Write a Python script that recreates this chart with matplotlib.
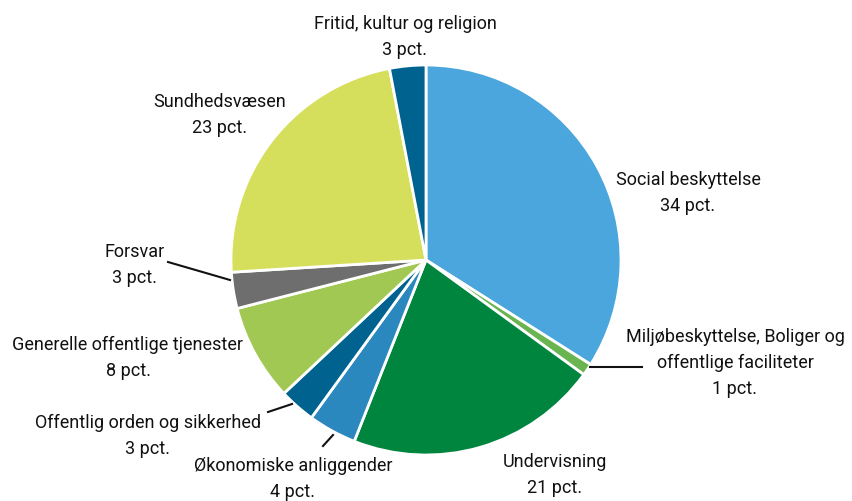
import matplotlib
matplotlib.use("Agg")
import matplotlib.pyplot as plt

categories = ["Social beskyttelse", "Miljøbeskyttelse, Boliger og\noffentlige faciliteter",
              "Undervisning", "Økonomiske anliggender", "Offentlig orden og sikkerhed",
              "Generelle offentlige tjenester", "Forsvar", "Sundhedsvæsen",
              "Fritid, kultur og religion"]
values = [34, 1, 21, 4, 3, 8, 3, 23, 3]
value_labels = ["34 pct.", "1 pct.", "21 pct.", "4 pct.", "3 pct.", "8 pct.", "3 pct.", "23 pct.", "3 pct."]
colors = ["#4BA6DD", "#6AB552", "#00853F", "#2A88BF", "#00628F", "#A1C853",
          "#6E6E6E", "#D6DF5C", "#00628F"]

plt.rcParams['font.family'] = ['Roboto', 'DejaVu Sans']

W, H = 852, 501
cx, cy, R = 426, 260, 195
fig = plt.figure(figsize=(W / 100, H / 100), dpi=100)
ax = fig.add_axes([0, 0, 1, 1])

ax.pie(values, colors=colors, startangle=90, counterclock=False, radius=1,
       wedgeprops=dict(edgecolor='white', linewidth=2))
ax.set_xlim(-cx / R, (W - cx) / R)
ax.set_ylim(-(H - cy) / R, cy / R)
ax.set_aspect('equal')
ax.axis('off')

def P(x, y):
    return ((x - cx) / R, (cy - y) / R)

# label positions (pixel) for each category
label_pos = [(688, 193), (735, 363), (555, 475), (293, 479), (148, 436),
             (128, 358), (135, 265), (220, 115), (405, 37)]
fs = 13
for name, vl, (x, y) in zip(categories, value_labels, label_pos):
    ax.text(*P(x, y), name + "\n" + vl, ha='center', va='center', fontsize=fs,
            linespacing=1.6, color='#111111')

# leader lines
leaders = [((590, 367), (642, 367)), ((230, 280), (168, 262)),
           ((292, 404), (268, 412)), ((333, 435), (323, 446))]
for (x1, y1), (x2, y2) in leaders:
    p1, p2 = P(x1, y1), P(x2, y2)
    ax.plot([p1[0], p2[0]], [p1[1], p2[1]], color='#111111', lw=1.5)

fig.savefig("out.png", dpi=100)
